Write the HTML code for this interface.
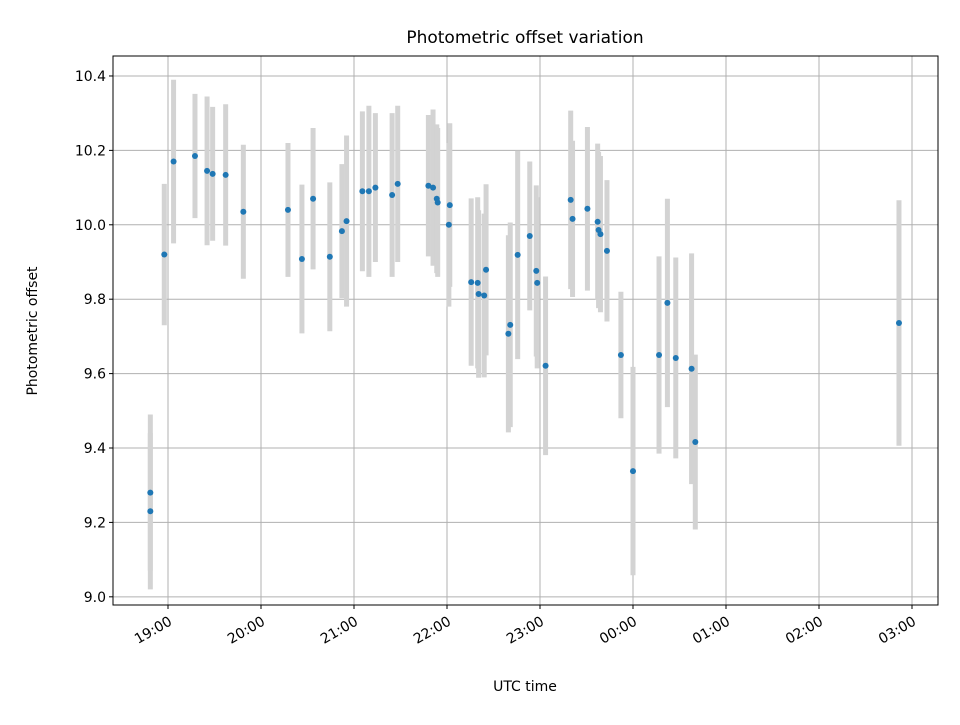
<!DOCTYPE html>
<html><head><meta charset="utf-8"><style>
body{margin:0;background:#fff;font-family:"Liberation Sans","DejaVu Sans",sans-serif}
svg text{font-family:"DejaVu Sans","Liberation Sans",sans-serif;fill:#000}
</style></head><body>
<svg id="chart" width="960" height="720" viewBox="0 0 960 720" xmlns="http://www.w3.org/2000/svg">
<rect width="960" height="720" fill="#fff"/>
<text x="525" y="43" font-size="17" text-anchor="middle">Photometric offset variation</text>
<text x="525" y="691" font-size="14" text-anchor="middle">UTC time</text>
<text transform="translate(37,331) rotate(-90)" font-size="14" text-anchor="middle">Photometric offset</text>
<g id="grid"></g><g id="bars"></g><g id="pts"></g><g id="ticks"></g>
<rect x="113" y="56" width="825" height="549" fill="none" stroke="#000" stroke-width="1"/>
</svg>
<script>
const times=[18.81,18.81,18.96,19.06,19.29,19.42,19.48,19.62,19.81,20.29,20.44,20.56,20.74,20.87,20.92,21.09,21.16,21.23,21.41,21.47,21.80,21.85,21.89,21.90,22.03,22.02,22.26,22.33,22.34,22.40,22.42,22.66,22.68,22.76,22.89,22.96,22.97,23.06,23.33,23.35,23.51,23.62,23.63,23.65,23.72,23.87,24.00,24.28,24.37,24.46,24.63,24.67,26.86];
const offsets=[9.28,9.23,9.92,10.17,10.185,10.145,10.137,10.134,10.035,10.04,9.908,10.07,9.914,9.983,10.01,10.09,10.09,10.10,10.08,10.11,10.105,10.10,10.07,10.06,10.053,10.0,9.846,9.844,9.814,9.81,9.879,9.707,9.731,9.919,9.97,9.876,9.844,9.621,10.067,10.016,10.043,10.008,9.986,9.975,9.93,9.65,9.338,9.65,9.79,9.642,9.613,9.416,9.736];
const errors=[0.21,0.21,0.19,0.22,0.167,0.20,0.18,0.19,0.18,0.18,0.20,0.19,0.20,0.18,0.23,0.215,0.23,0.20,0.22,0.21,0.19,0.21,0.20,0.20,0.22,0.22,0.225,0.23,0.225,0.22,0.23,0.265,0.275,0.28,0.20,0.23,0.23,0.24,0.24,0.21,0.22,0.21,0.21,0.21,0.19,0.17,0.28,0.265,0.28,0.27,0.31,0.235,0.33];
const xTicks=[19,20,21,22,23,24,25,26,27];
const xTickLabels=["19:00","20:00","21:00","22:00","23:00","00:00","01:00","02:00","03:00"];
const yTicks=[9.0,9.2,9.4,9.6,9.8,10.0,10.2,10.4];
const yTickLabels=["9.0","9.2","9.4","9.6","9.8","10.0","10.2","10.4"];
const L=113,R=938,T=56,B=605,x0=18.4086,x1=27.2796,y0=8.978,y1=10.4537;
const sx=v=>L+(v-x0)/(x1-x0)*(R-L);
const sy=v=>B-(v-y0)/(y1-y0)*(B-T);
const NS="http://www.w3.org/2000/svg";
function mk(tag,attrs,parent){const e=document.createElementNS(NS,tag);for(const k in attrs)e.setAttribute(k,attrs[k]);document.getElementById(parent).appendChild(e);return e;}
xTicks.forEach((t,i)=>{const x=sx(t);
 const g=mk('line',{x1:x,x2:x,y1:T,y2:B,stroke:'#b0b0b0','stroke-width':1},'grid');
 
 
 mk('line',{x1:x,x2:x,y1:B,y2:B+4,stroke:'#000'},'ticks');
 const ax=x+5, ay=B+19;
 const tx=mk('text',{x:ax,y:ay,'font-size':14,'text-anchor':'end',transform:`rotate(-30 ${ax} ${ay})`},'ticks');
 tx.textContent=xTickLabels[i];
 
 
});
yTicks.forEach((t,i)=>{const y=sy(t);
 const g=mk('line',{x1:L,x2:R,y1:y,y2:y,stroke:'#b0b0b0','stroke-width':1},'grid');
 
 
 mk('line',{x1:L-4,x2:L,y1:y,y2:y,stroke:'#000'},'ticks');
 const tx=mk('text',{x:L-7,y:y+5,'font-size':14,'text-anchor':'end'},'ticks');
 tx.textContent=yTickLabels[i];
 
 
});
times.forEach((t,i)=>{const x=sx(t);
 const b=mk('line',{x1:x,x2:x,y1:sy(offsets[i]+errors[i]),y2:sy(offsets[i]-errors[i]),stroke:'#d3d3d3','stroke-width':5},'bars');
 
 
});
times.forEach((t,i)=>{
 const c=mk('circle',{cx:sx(t),cy:sy(offsets[i]),r:3,fill:'#1f77b4'},'pts');
 
 
});
</script>
</body></html>
